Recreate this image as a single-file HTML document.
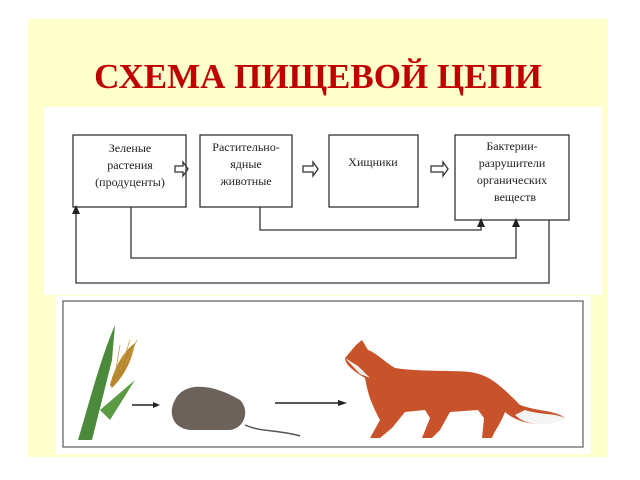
<!DOCTYPE html>
<html><head><meta charset="utf-8"><style>
body{margin:0;width:640px;height:480px;background:#fff;overflow:hidden;position:relative}
.bg{position:absolute;left:28px;top:19px;width:580px;height:438px;background:#ffffcc}
h1{position:absolute;left:28px;width:580px;top:57px;margin:0;text-align:center;font:bold 35px "Liberation Serif",serif;color:#c00000;white-space:nowrap}
.p1{position:absolute;left:44px;top:107px;width:558px;height:188px;background:#fff}
.p2{position:absolute;left:56px;top:296px;width:535px;height:158px;background:#fff}
svg{position:absolute;left:0;top:0}
text{font-family:"Liberation Serif",serif;font-size:12px;fill:#222}
</style></head><body>
<div class="bg"></div>
<h1>СХЕМА ПИЩЕВОЙ ЦЕПИ</h1>
<div class="p1"></div><div class="p2"></div>
<svg width="640" height="480">
<g fill="none" stroke="#333" stroke-width="1.3">
<rect x="73" y="135" width="113" height="72"/>
<rect x="200" y="135" width="92" height="72"/>
<rect x="329" y="135" width="89" height="72"/>
<rect x="455" y="135" width="114" height="85"/>
<path d="M131 207V258H516V224"/>
<path d="M260 207V230H481V224"/>
<path d="M549 220V283H76V211"/>
<path d="M175 166h8v-4l5 7-5 7v-4h-8z"/>
<path d="M303 166h10v-4l5 7-5 7v-4h-10z"/>
<path d="M431 166h12v-4l5 7-5 7v-4h-12z"/>
<rect x="63" y="301" width="520" height="146" stroke="#666"/>
</g>
<g fill="#222">
<path d="M76 205l-4 9h8z"/><path d="M481 218l-4 9h8z"/><path d="M516 218l-4 9h8z"/>
</g>
<g text-anchor="middle">
<text x="130" y="152">Зеленые</text><text x="130" y="169">растения</text><text x="130" y="186">(продуценты)</text>
<text x="246" y="151">Растительно-</text><text x="246" y="168">ядные</text><text x="246" y="185">животные</text>
<text x="373" y="166">Хищники</text>
<text x="512" y="150">Бактерии-</text><text x="512" y="167">разрушители</text><text x="512" y="184">органических</text><text x="515" y="201">веществ</text>
</g>
<!-- wheat -->
<path d="M78 440C90 400 100 360 115 325L112 360 92 440Z" fill="#4a8a3a"/>
<path d="M100 410l35-30-25 40z" fill="#5a9a45"/>
<path d="M110 385C115 365 125 350 135 343 132 360 125 375 112 388Z" fill="#b8862e"/>
<g stroke="#c9a040" stroke-width=".8"><path d="M120 370l10-30M125 365l12-25M115 375l5-30"/></g>
<path d="M132 405h22" stroke="#222" stroke-width="1.5"/><path d="M160 405l-7-3v6z" fill="#222"/>
<!-- mouse -->
<path d="M175 400C185 380 215 385 240 400 250 410 245 428 230 430H190C172 428 168 412 175 400Z" fill="#6d625a"/>
<path d="M245 425C260 432 280 430 300 436" stroke="#555" fill="none" stroke-width="1.5"/>
<path d="M275 403h65" stroke="#222" stroke-width="1.5"/><path d="M347 403l-9-3v6z" fill="#222"/>
<!-- fox -->
<path d="M345 358L356 345 362 340 368 350C375 352 385 362 395 368 420 372 450 370 470 372 490 375 500 385 520 405 540 412 555 410 565 418 545 428 520 425 505 412 500 425 495 430 492 438L482 438 484 418 478 410 450 412 440 430 432 438 422 438 430 418 425 410 405 412 392 428 380 438 370 438 380 420C372 405 368 395 365 378 355 372 345 365 345 358Z" fill="#c8532a"/>
<path d="M525 410C540 415 555 413 565 418 545 428 525 425 515 415Z" fill="#f4f4f4"/>
<path d="M345 358 358 366 370 378 360 374Z" fill="#eee"/>
</svg>
</body></html>
